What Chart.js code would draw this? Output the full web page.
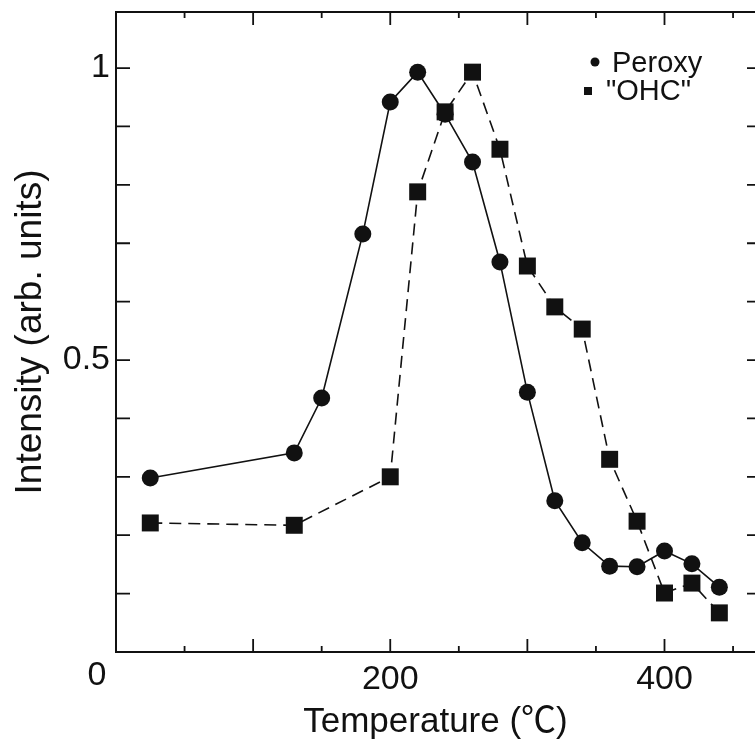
<!DOCTYPE html>
<html>
<head>
<meta charset="utf-8">
<script src="https://cdn.jsdelivr.net/npm/chart.js@4.4.1/dist/chart.umd.min.js"></script>
<style>
  html, body { margin: 0; padding: 0; background: #fff; }
</style>
</head>
<body>
<canvas id="chart" width="755" height="751"></canvas>
<script>
const peroxyTemp = [25, 130, 150, 180, 200, 220, 240, 260, 280, 300, 320, 340, 360, 380, 400, 420, 440];
const peroxyIntensity = [0.298, 0.341, 0.435, 0.716, 0.942, 0.993, 0.921, 0.839, 0.668, 0.445, 0.259, 0.187, 0.147, 0.146, 0.173, 0.151, 0.111];
const ohcTemp = [25, 130, 200, 220, 240, 260, 280, 300, 320, 340, 360, 380, 400, 420, 440];
const ohcIntensity = [0.221, 0.217, 0.300, 0.788, 0.925, 0.993, 0.861, 0.661, 0.591, 0.553, 0.330, 0.224, 0.101, 0.118, 0.067];
const xTickLabels = [200, 400];
const yTickLabels = [0.5, 1];

const ink = '#111';
const fontFamily = '"Liberation Sans", Arial, "Noto Sans CJK JP", sans-serif';

const toPoints = (xs, ys) => xs.map((v, i) => ({ x: v, y: ys[i] }));

// frame, inward ticks, corner "0" and the small legend in the top right
const frameTicks = {
  id: 'frameTicks',
  afterDraw(chart) {
    const { ctx, chartArea: a, scales: { x, y } } = chart;
    ctx.save();
    ctx.strokeStyle = ink;
    ctx.lineWidth = 2;
    ctx.beginPath();
    ctx.moveTo(a.left, a.top);
    ctx.lineTo(a.right, a.top);
    ctx.stroke();

    ctx.lineWidth = 1.8;
    x.ticks.forEach(t => {
      if (t.value === 0) return;
      const px = x.getPixelForValue(t.value);
      const len = t.value % 100 === 0 ? 13 : 6;
      ctx.beginPath();
      ctx.moveTo(px, a.bottom);
      ctx.lineTo(px, a.bottom - len);
      ctx.moveTo(px, a.top);
      ctx.lineTo(px, a.top + len);
      ctx.stroke();
    });
    y.ticks.forEach(t => {
      if (t.value === 0) return;
      const py = y.getPixelForValue(t.value);
      ctx.beginPath();
      ctx.moveTo(a.left, py);
      ctx.lineTo(a.left + 14, py);
      ctx.moveTo(a.right, py);
      ctx.lineTo(a.right - 8, py);
      ctx.stroke();
    });

    ctx.fillStyle = ink;
    ctx.font = `34px ${fontFamily}`;
    ctx.textAlign = 'center';
    ctx.textBaseline = 'top';
    ctx.fillText('0', x.getPixelForValue(0) - 19, a.bottom + 7);

    // legend
    ctx.font = `29px ${fontFamily}`;
    ctx.textAlign = 'left';
    ctx.textBaseline = 'middle';
    const lx = a.right - 160;
    chart.data.datasets.slice().sort((p, q) => q.order - p.order).forEach((ds, i) => {
      const ly = a.top + 50 + i * 28;
      ctx.beginPath();
      if (ds.pointStyle === 'rect') {
        ctx.rect(lx - 11, ly + 1 - 4, 8, 8);
      } else {
        ctx.arc(lx, ly, 4.5, 0, Math.PI * 2);
      }
      ctx.fill();
      ctx.fillText(ds.label, ds.pointStyle === 'rect' ? lx + 11 : lx + 17, ly + 2);
    });
    ctx.restore();
  }
};

new Chart(document.getElementById('chart'), {
  type: 'line',
  data: {
    datasets: [
      {
        label: '"OHC"',
        data: toPoints(ohcTemp, ohcIntensity),
        order: 0,
        borderColor: ink,
        backgroundColor: ink,
        borderWidth: 1.6,
        borderDash: [12, 7],
        pointStyle: 'rect',
        pointRadius: 12,
        pointBorderWidth: 0,
        tension: 0,
        fill: false
      },
      {
        label: 'Peroxy',
        data: toPoints(peroxyTemp, peroxyIntensity),
        order: 1,
        borderColor: ink,
        backgroundColor: ink,
        borderWidth: 1.6,
        pointStyle: 'circle',
        pointRadius: 8.5,
        pointBorderWidth: 0,
        tension: 0,
        fill: false
      }
    ]
  },
  options: {
    responsive: false,
    animation: false,
    layout: { autoPadding: false, padding: { top: 12, right: 0, left: 0, bottom: 0 } },
    plugins: {
      legend: { display: false },
      tooltip: { enabled: false }
    },
    scales: {
      x: {
        type: 'linear',
        min: 0,
        max: 466,
        afterFit: (scale) => {
          scale.height = 99;
          scale.paddingLeft = 0;
          scale.paddingRight = 0;
        },
        grid: { display: false, drawTicks: false },
        border: { display: true, color: ink, width: 2 },
        ticks: {
          stepSize: 50,
          includeBounds: false,
          autoSkip: false,
          maxRotation: 0,
          padding: 7,
          color: ink,
          font: { family: fontFamily, size: 34 },
          callback: (v) => xTickLabels.includes(v) ? String(v) : ''
        },
        title: {
          display: true,
          text: 'Temperature (℃)',
          color: ink,
          font: { family: fontFamily, size: 35 },
          padding: { top: 0, bottom: 8 }
        }
      },
      y: {
        type: 'linear',
        min: 0,
        max: 1.096,
        afterFit: (scale) => {
          scale.width = 116;
          scale.paddingTop = 0;
          scale.paddingBottom = 0;
        },
        grid: { display: false, drawTicks: false },
        border: { display: true, color: ink, width: 2 },
        ticks: {
          stepSize: 0.1,
          includeBounds: false,
          autoSkip: false,
          padding: 6,
          color: ink,
          font: { family: fontFamily, size: 34 },
          callback: (v) => yTickLabels.some(l => Math.abs(l - v) < 1e-6) ? String(v) : ''
        },
        title: {
          display: true,
          text: 'Intensity (arb. units)',
          color: ink,
          font: { family: fontFamily, size: 37 },
          padding: { top: 9, bottom: 0 }
        }
      }
    }
  },
  plugins: [frameTicks]
});
</script>
</body>
</html>
